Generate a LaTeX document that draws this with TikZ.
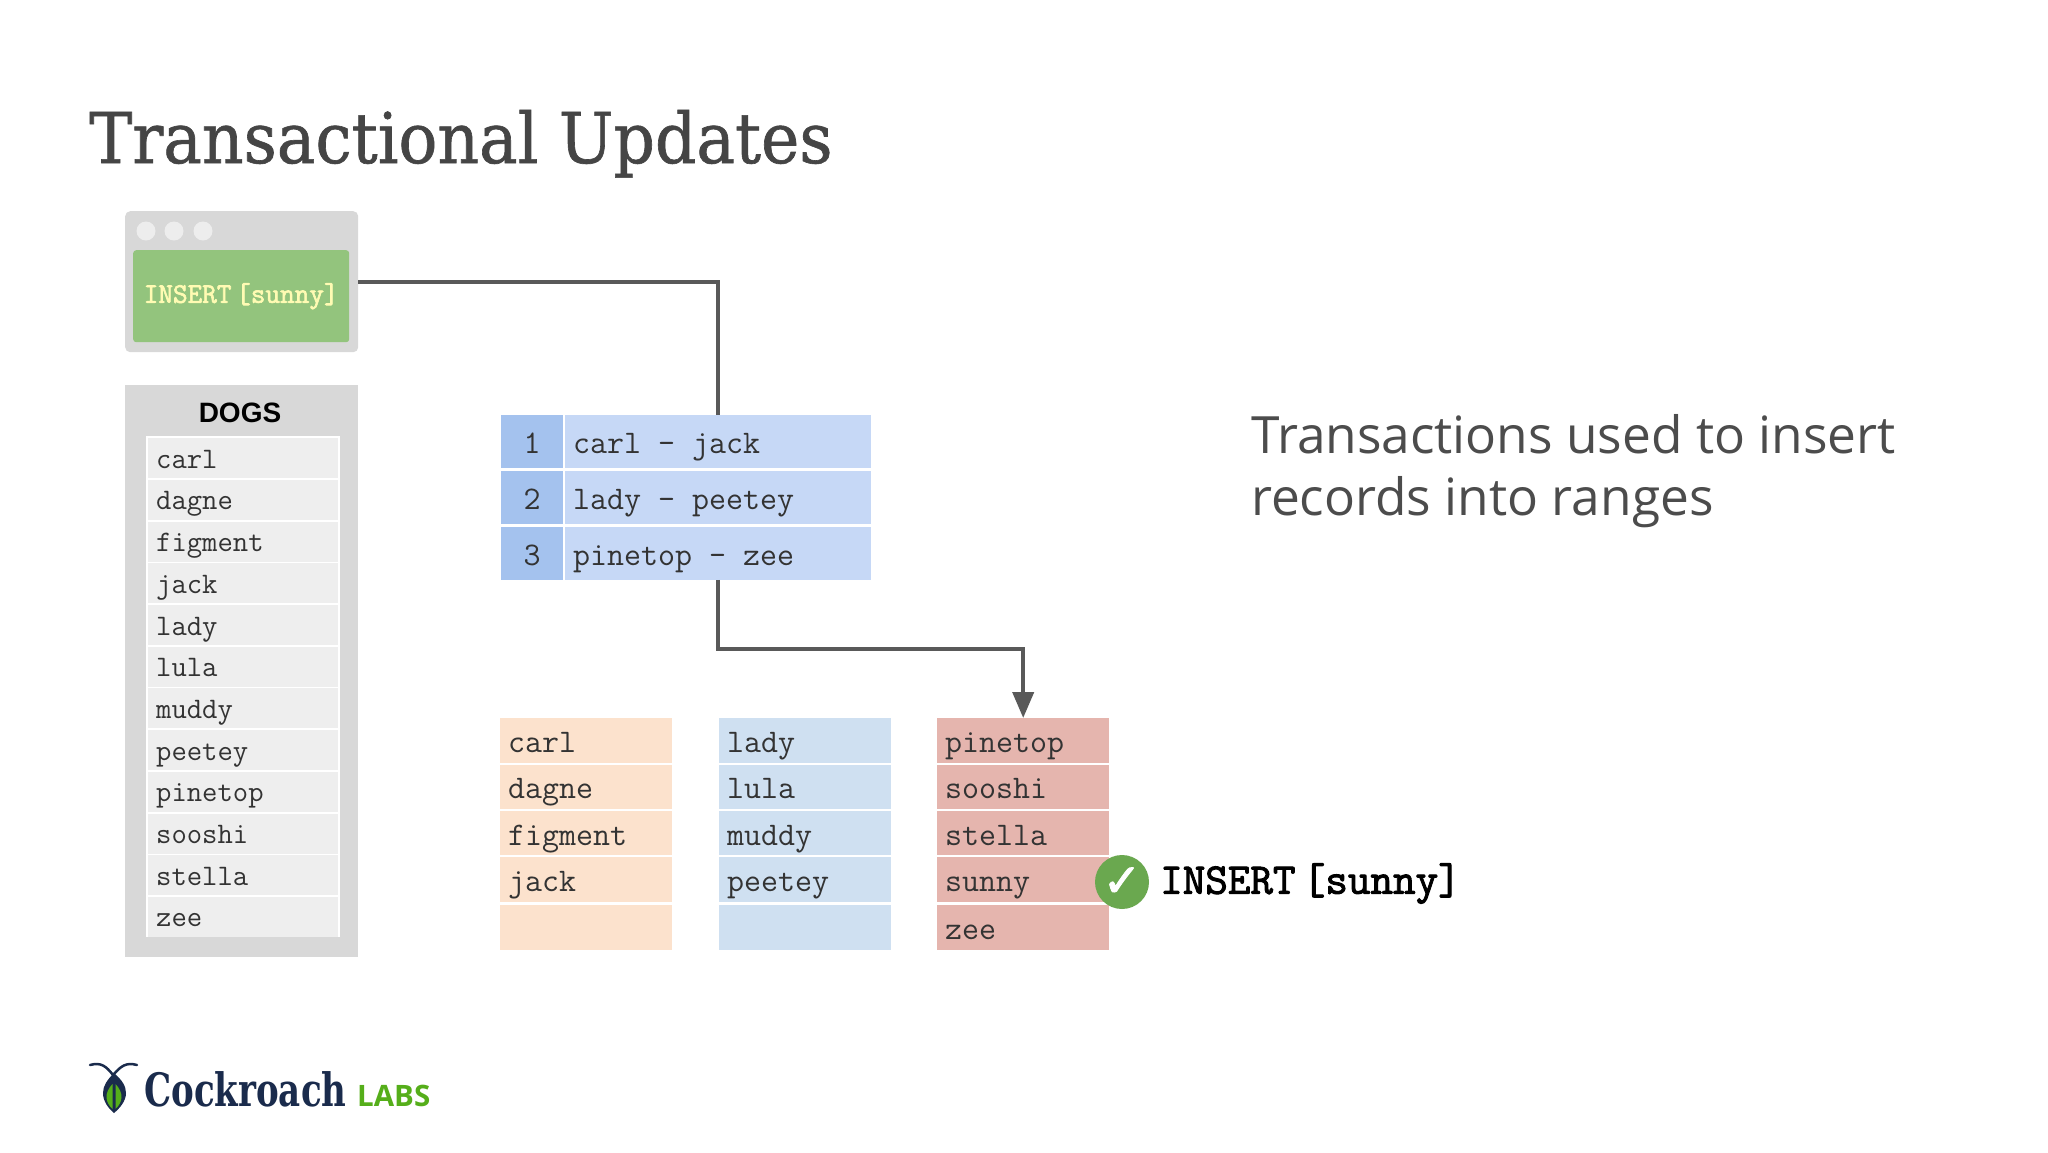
\documentclass[tikz,border=0pt]{standalone}
\usepackage{fontspec}
\usepackage{tikz}
\usetikzlibrary{arrows.meta}
\newfontfamily\titlefont[FakeStretch=0.925,FakeBold=0.9]{DejaVu Serif}
\newfontfamily\logofont[FakeStretch=0.74]{DejaVu Serif Bold}
\newfontfamily\notefont{Open Sans}
\newfontfamily\labsfont{Open Sans Bold}
\newfontfamily\headfont{Liberation Sans Bold}
\newfontfamily\tickfont[FakeBold=2]{DejaVu Sans}
\newfontfamily\insfont[FakeBold=2.2]{Latin Modern Mono}
\newcommand{\fs}[1]{\fontsize{#1}{#1}\selectfont}
\definecolor{linegray}{HTML}{595959}
\definecolor{wingray}{HTML}{D8D8D8}
\definecolor{listgray}{HTML}{EEEEEE}
\definecolor{insgreen}{HTML}{93C47D}
\definecolor{okgreen}{HTML}{6AA84F}
\definecolor{idxblue}{HTML}{A4C2EE}
\definecolor{metablue}{HTML}{C6D8F6}
\definecolor{rangeorange}{HTML}{FCE2CD}
\definecolor{rangeblue}{HTML}{CFE0F1}
\definecolor{rangered}{HTML}{E5B5AE}
\definecolor{navy}{HTML}{1A2B4C}
\definecolor{labsgreen}{HTML}{55AE1A}
\tikzset{
	rowcell/.style={anchor=north west, inner ysep=0pt, inner xsep=8pt, align=flush left},
	listcell/.style={rowcell, fill=listgray, text width=174pt, minimum height=40pt, text height=22pt, text depth=2pt, text=black!80, font=\ttfamily\fs{29.8}},
	metacell/.style={rowcell, fill=metablue, text width=290pt, minimum height=53pt, text height=24pt, text depth=0pt, text=black!80, font=\ttfamily\fs{33}},
	idxcell/.style={rowcell, fill=idxblue, inner xsep=0pt, align=center, text width=62pt, minimum height=53pt, text height=24pt, text depth=0pt, text=black!80, font=\ttfamily\fs{33}},
	rangecell/.style={rowcell, text width=156pt, minimum height=44.5pt, text height=24pt, text depth=0pt, text=black!80, font=\ttfamily\fs{33}},
	link/.style={draw=linegray, line width=4pt}
}
\begin{document}
\begin{tikzpicture}[x=1pt, y=-1pt]
	\useasboundingbox[fill=white] (0,0) rectangle (2048,1152);
	\node[anchor=base west, inner sep=0pt, text=black!73, font=\titlefont\fs{70}] (title) at (89,163) {Transactional Updates};
	\node[anchor=base west, inner sep=0pt, text=black!70, font=\notefont\fs{51.4}] (noteone) at (1251,453) {Transactions used to insert};
	\node[anchor=base west, inner sep=0pt, text=black!70, font=\notefont\fs{51.4}] (notetwo) at (1251,515.5) {records into ranges};

	\node[anchor=north west, fill=wingray, rounded corners=5pt, minimum width=233pt, minimum height=141pt, inner sep=0pt] (win) at (125,211) {};
	\fill[white!93!black] (146,231) circle (9.5); \fill[white!93!black] (174,231) circle (9.5); \fill[white!93!black] (203,231) circle (9.5);
	\node[anchor=north west, fill=insgreen, rounded corners=3pt, minimum width=216pt, minimum height=92pt, inner sep=0pt, text=yellow!30!white, font=\insfont\fs{28.4}] (insert) at (133,250) {INSERT\,[sunny]};

	\node[anchor=north west, fill=wingray, minimum width=233pt, minimum height=572pt, inner sep=0pt] (dogs) at (125,385) {};
	\node[inner sep=0pt, font=\headfont\fs{28}] (dogshead) at (240,413) {DOGS};
	\node[anchor=north west, fill=white, minimum width=194pt, minimum height=501pt, inner sep=0pt] (dogslist) at (146,436) {};
	\node[listcell] (dcarl) at (148,438) {carl};
	\node[listcell] (ddagne) at (148,479.7) {dagne};
	\node[listcell] (dfigment) at (148,521.4) {figment};
	\node[listcell] (djack) at (148,563.1) {jack};
	\node[listcell] (dlady) at (148,604.8) {lady};
	\node[listcell] (dlula) at (148,646.5) {lula};
	\node[listcell] (dmuddy) at (148,688.2) {muddy};
	\node[listcell] (dpeetey) at (148,729.9) {peetey};
	\node[listcell] (dpinetop) at (148,771.6) {pinetop};
	\node[listcell] (dsooshi) at (148,813.3) {sooshi};
	\node[listcell] (dstella) at (148,855) {stella};
	\node[listcell] (dzee) at (148,896.7) {zee};

	\node[idxcell] (idone) at (501,415) {1}; \node[metacell] (rone) at (565,415) {carl - jack};
	\node[idxcell] (idtwo) at (501,471) {2}; \node[metacell] (rtwo) at (565,471) {lady - peetey};
	\node[idxcell] (idthree) at (501,526.5) {3}; \node[metacell] (rthree) at (565,526.5) {pinetop - zee};

	\node[rangecell, fill=rangeorange] (acarl) at (500,718) {carl};
	\node[rangecell, fill=rangeorange] (adagne) at (500,764.3) {dagne};
	\node[rangecell, fill=rangeorange] (afigment) at (500,810.6) {figment};
	\node[rangecell, fill=rangeorange] (ajack) at (500,856.9) {jack};
	\node[rangecell, fill=rangeorange] (aempty) at (500,905) {};
	\node[rangecell, fill=rangeblue] (blady) at (719,718) {lady};
	\node[rangecell, fill=rangeblue] (blula) at (719,764.3) {lula};
	\node[rangecell, fill=rangeblue] (bmuddy) at (719,810.6) {muddy};
	\node[rangecell, fill=rangeblue] (bpeetey) at (719,856.9) {peetey};
	\node[rangecell, fill=rangeblue] (bempty) at (719,905) {};
	\node[rangecell, fill=rangered] (cpinetop) at (937,718) {pinetop};
	\node[rangecell, fill=rangered] (csooshi) at (937,764.3) {sooshi};
	\node[rangecell, fill=rangered] (cstella) at (937,810.6) {stella};
	\node[rangecell, fill=rangered] (csunny) at (937,856.9) {sunny};
	\node[rangecell, fill=rangered] (czee) at (937,905) {zee};

	\node[circle, fill=okgreen, minimum size=54pt, inner sep=0pt, text=white, font=\tickfont\fs{46}] (tick) at (1122,882) {✓};
	\node[anchor=west, inner sep=0pt, font=\insfont\fs{43.8}] (done) at (1160,883.5) {INSERT\,[sunny]};

	\draw[link] (win.east) -| (rone.north);
	\draw[link, -{Triangle[length=26pt, width=21pt]}] (rthree.south) -- ++(0,69) -| (cpinetop.north);

	\draw[navy, line width=2.5pt, line cap=round] (90,1065) .. controls (101,1062) and (106,1066) .. (113,1075) .. controls (121,1066) and (126,1062) .. (137,1065);
	\fill[navy] (114,1073) .. controls (122,1080) and (126,1086) .. (126,1093) .. controls (126,1101) and (120,1108) .. (114,1113) .. controls (108,1108) and (103,1101) .. (103,1093) .. controls (103,1086) and (107,1080) .. (114,1073) -- cycle;
	\fill[labsgreen] (112.5,1109) .. controls (105,1102) and (104,1093) .. (112.5,1084) -- cycle;
	\fill[labsgreen] (115.5,1109) .. controls (123,1102) and (124,1093) .. (115.5,1084) -- cycle;
	\node[anchor=base west, inner sep=0pt, text=navy, font=\logofont\fs{46}] (logotext) at (144,1106) {Cockroach};
	\node[anchor=base west, inner sep=0pt, text=labsgreen, font=\labsfont\fs{29.5}] (logolabs) at (357,1106) {LABS};
\end{tikzpicture}
\end{document}
